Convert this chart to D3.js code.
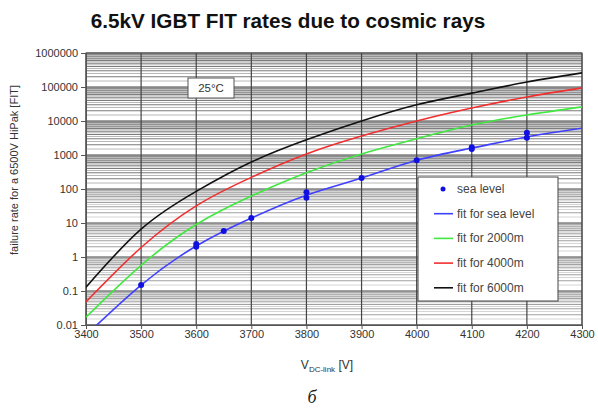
<!DOCTYPE html>
<meta charset="utf-8">
<html>
<script src="https://d3js.org/d3.v7.min.js"></script>
<style>
    body { margin: 0; background: #fff; }
    text { font-family: "Liberation Sans", Arial, sans-serif; }
</style>
<body>
<div id="chart"></div>
<script>
    // voltage steps and fitted FIT curves
    var volts = [3400, 3500, 3600, 3700, 3800, 3900, 4000, 4100, 4200, 4300];
    var fitSea = [0.005, 0.15, 2.1, 14, 66, 210, 700, 1600, 3400, 6100];
    var fit2000 = [0.017, 0.57, 9, 62, 300, 1070, 3000, 7600, 15000, 26000];
    var fit4000 = [0.048, 1.9, 32, 220, 1070, 3600, 10000, 24000, 51000, 94000];
    var fit6000 = [0.13, 6.6, 85, 620, 2800, 10000, 30000, 66000, 140000, 260000];

    // measured points at sea level
    var seaVolts = [3500, 3600, 3600, 3650, 3700, 3800, 3800, 3900, 4000, 4100, 4100, 4200, 4200];
    var seaFit = [0.15, 2.4, 2.0, 5.8, 14, 80, 55, 210, 700, 1700, 1500, 4500, 3200];

    var yTicks = [0.01, 0.1, 1, 10, 100, 1000, 10000, 100000, 1000000];
    var xTicks = [3400, 3500, 3600, 3700, 3800, 3900, 4000, 4100, 4200, 4300];

    var legendNames = ["sea level", "fit for sea level", "fit for 2000m", "fit for 4000m", "fit for 6000m"];
    var colors = ["#1010e0", "#4040ff", "#40e840", "#f03030", "#111111"];

    var W = 598, H = 408;
    var pl = 86, pr = 582, pt = 53, pb = 325;

    var svg = d3.select("#chart").append("svg")
        .attr("width", W).attr("height", H);

    var x = d3.scaleLinear().domain([3400, 4300]).range([pl, pr]);
    var y = d3.scaleLog().domain([0.01, 1000000]).range([pb, pt]);

    // title
    svg.append("text")
        .attr("x", 288).attr("y", 28)
        .attr("text-anchor", "middle")
        .style("font-size", "20.7px").style("font-weight", "bold")
        .attr("fill", "#111")
        .text("6.5kV IGBT FIT rates due to cosmic rays");

    // horizontal grid: decades + minors (upper decades drawn darker, as in the scan)
    var grid = svg.append("g");
    for (var d = -2; d < 6; d++) {
        var upper = d >= 2;
        for (var m = 1.5; m < 10; m += 0.5) {
            var v = m * Math.pow(10, d);
            var isInt = (m % 1 === 0);
            grid.append("line")
                .attr("x1", pl).attr("x2", pr)
                .attr("y1", y(v)).attr("y2", y(v))
                .attr("stroke", isInt ? (upper ? "#7a7a7a" : "#a0a0a0") : (upper ? "#b8b8b8" : "#d4d4d4"))
                .attr("stroke-width", 1);
        }
    }
    yTicks.forEach(function (t) {
        grid.append("line")
            .attr("x1", pl).attr("x2", pr)
            .attr("y1", y(t)).attr("y2", y(t))
            .attr("stroke", "#444").attr("stroke-width", 1.2);
    });
    xTicks.forEach(function (t) {
        grid.append("line")
            .attr("x1", x(t)).attr("x2", x(t))
            .attr("y1", pt).attr("y2", pb)
            .attr("stroke", "#444").attr("stroke-width", 1.2);
    });

    // frame
    svg.append("rect")
        .attr("x", pl).attr("y", pt)
        .attr("width", pr - pl).attr("height", pb - pt)
        .attr("fill", "none").attr("stroke", "#555");

    // axes
    var yAxis = svg.append("g")
        .attr("transform", "translate(" + pl + ",0)")
        .call(d3.axisLeft(y).tickValues(yTicks).tickSize(5).tickPadding(3)
            .tickFormat(function (t) { return String(t); }));
    var xAxis = svg.append("g")
        .attr("transform", "translate(0," + pb + ")")
        .call(d3.axisBottom(x).tickValues(xTicks).tickSize(4).tickPadding(1)
            .tickFormat(d3.format("d")));
    [yAxis, xAxis].forEach(function (a) {
        a.select(".domain").attr("stroke", "#555");
        a.selectAll("line").attr("stroke", "#555");
        a.selectAll("text").attr("fill", "#333")
            .style("font-size", "11px")
            .style("font-family", "'Liberation Sans', Arial, sans-serif");
    });

    // axis titles
    svg.append("text")
        .attr("transform", "translate(18,170) rotate(-90)")
        .attr("text-anchor", "middle")
        .attr("fill", "#333")
        .style("font-size", "11px")
        .text("failure rate for a 6500V HiPak [FIT]");

    var xl = svg.append("text")
        .attr("x", 327).attr("y", 369)
        .attr("text-anchor", "middle")
        .attr("fill", "#333")
        .style("font-size", "12px");
    xl.append("tspan").text("V");
    xl.append("tspan").attr("dy", 3).attr("fill", "#333").style("font-size", "8px").text("DC-link");
    xl.append("tspan").attr("dy", -3).text(" [V]");

    svg.append("text")
        .attr("x", 312).attr("y", 403)
        .attr("text-anchor", "middle")
        .attr("fill", "#222")
        .style("font-family", "'Liberation Serif', serif")
        .style("font-style", "italic")
        .style("font-size", "18px")
        .text("б");

    // curves
    svg.append("clipPath").attr("id", "clip")
        .append("rect")
        .attr("x", pl).attr("y", pt)
        .attr("width", pr - pl).attr("height", pb - pt);

    var line = d3.line()
        .x(function (p) { return x(p[0]); })
        .y(function (p) { return y(p[1]); })
        .curve(d3.curveNatural);

    var plot = svg.append("g").attr("clip-path", "url(#clip)");
    var series = [fitSea, fit2000, fit4000, fit6000];
    series.forEach(function (s, i) {
        plot.append("path")
            .datum(volts.map(function (v, j) { return [v, s[j]]; }))
            .attr("fill", "none")
            .attr("stroke", colors[i + 1])
            .attr("stroke-width", 1.6)
            .attr("d", line);
    });

    plot.selectAll("circle")
        .data(seaVolts.map(function (v, j) { return [v, seaFit[j]]; }))
        .enter().append("circle")
        .attr("cx", function (p) { return x(p[0]); })
        .attr("cy", function (p) { return y(p[1]); })
        .attr("r", 3)
        .attr("fill", colors[0]);

    // 25°C label
    svg.append("rect")
        .attr("x", 188).attr("y", 78).attr("width", 46).attr("height", 20)
        .attr("fill", "#fff").attr("stroke", "#555");
    svg.append("text")
        .attr("x", 211).attr("y", 92)
        .attr("text-anchor", "middle")
        .attr("fill", "#333")
        .style("font-size", "11.5px")
        .text("25°C");

    // legend
    var lg = svg.append("g");
    lg.append("rect")
        .attr("x", 418).attr("y", 177).attr("width", 140).attr("height", 124)
        .attr("fill", "#fff").attr("stroke", "#444");
    legendNames.forEach(function (name, i) {
        var ly = 189 + i * 24.7;
        if (i === 0) {
            lg.append("circle").attr("cx", 443).attr("cy", ly).attr("r", 2.5)
                .attr("fill", colors[0]);
        } else {
            lg.append("line")
                .attr("x1", 434).attr("x2", 453)
                .attr("y1", ly).attr("y2", ly)
                .attr("stroke", colors[i]).attr("stroke-width", 1.6);
        }
        lg.append("text")
            .attr("x", 457).attr("y", ly + 4)
            .attr("fill", "#444")
            .style("font-size", "12px")
            .text(name);
    });
</script>
</body>
</html>
